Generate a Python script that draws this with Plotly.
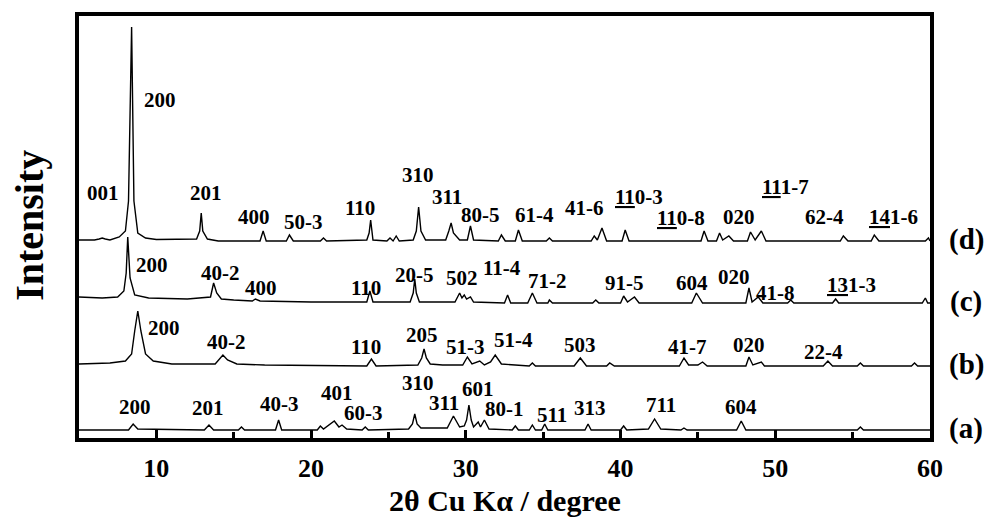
import plotly.graph_objects as go

# ---------------- data ----------------
# 2theta (degree) and intensity above each pattern's own baseline (arb. units)
two_theta_d = [5.0, 6.0, 6.3, 6.5, 6.7, 7.0, 7.6, 8.0, 8.2, 8.4, 8.55, 8.8, 9.3, 10.0, 12.6, 12.8, 12.9, 13.0, 13.3, 14.0,
               16.7, 16.9, 17.1, 18.4, 18.6, 18.85, 20.6, 20.8, 21.0, 23.6, 23.75, 23.85, 24.0, 24.9, 25.1, 25.3, 25.5, 25.7,
               26.6, 26.8, 26.95, 27.1, 27.4, 28.7, 28.9, 29.05, 29.2, 29.6, 30.1, 30.3, 30.5, 32.1, 32.3, 32.55, 33.2, 33.4,
               33.65, 35.2, 35.4, 35.6, 38.1, 38.3, 38.5, 38.8, 39.1, 40.1, 40.3, 40.55, 45.2, 45.4, 45.65, 46.2, 46.4, 46.6,
               47.0, 47.3, 48.2, 48.4, 48.7, 49.1, 49.4, 54.2, 54.4, 54.7, 56.2, 56.4, 56.7, 59.7, 59.9, 60.0]
intensity_d = [1, 1, 2, 3, 2, 1, 4, 10, 40, 214, 40, 8, 3, 1.5, 2, 10, 28, 10, 2, 0,
               0, 10, 0, 0, 6, 0, 0, 3, 0, 1, 8, 21, 1, 0, 3, 0, 5, 0,
               1, 10, 34, 10, 1, 1, 10, 18, 8, 1, 1, 15, 1, 0, 6, 0, 0, 11,
               0, 0, 3, 0, 0, 5, 1, 13, 0, 0, 11, 0, 0, 10, 0, 0, 8, 1,
               5, 0, 0, 9, 1, 10, 0, 0, 5, 0, 0, 6, 0, 0, 3, 0]

two_theta_c = [5.0, 6.5, 7.5, 7.9, 8.05, 8.15, 8.3, 8.6, 9.5, 12.0, 13.5, 13.7, 13.9, 14.2, 15.0, 16.2, 16.4, 16.7, 20.0,
               23.6, 23.8, 24.0, 26.4, 26.6, 26.7, 26.8, 27.0, 29.3, 29.6, 29.75, 29.9, 30.05, 30.3, 30.5, 32.5, 32.7, 32.9,
               34.0, 34.3, 34.6, 35.3, 35.4, 35.6, 38.2, 38.4, 38.6, 40.0, 40.2, 40.45, 40.9, 41.2, 44.6, 44.9, 45.3,
               48.1, 48.3, 48.5, 48.9, 49.2, 50.8, 51.0, 51.2, 53.7, 53.9, 54.1, 59.5, 59.7, 59.85, 60.0]
intensity_c = [6, 5, 6, 12, 30, 66, 25, 8, 5, 4, 6, 20, 10, 4, 3, 2, 4, 2, 1,
               1, 12, 1, 1, 10, 24, 10, 1, 1, 10, 5, 8, 4, 6, 1, 0, 8, 0,
               0, 10, 0, 0, 3, 0, 0, 3, 0, 0, 7, 1, 6, 0, 0, 10, 0,
               0, 15, 1, 6, 0, 0, 3, 0, 0, 4, 0, 0, 5, 0, 0]

two_theta_b = [5.0, 7.0, 8.0, 8.4, 8.6, 8.8, 9.0, 9.3, 9.8, 11.0, 13.8, 14.1, 14.3, 14.6, 15.2, 17.0, 23.6, 23.9, 24.2,
               26.9, 27.15, 27.3, 27.45, 27.7, 28.5, 29.8, 30.1, 30.4, 30.9, 31.2, 31.6, 31.9, 32.3, 34.1, 34.3, 34.5,
               37.0, 37.4, 37.8, 39.1, 39.3, 39.6, 43.8, 44.1, 44.4, 45.0, 45.3, 45.6, 48.1, 48.3, 48.55, 49.1, 49.3,
               53.1, 53.4, 53.7, 55.3, 55.5, 55.7, 58.8, 59.0, 59.2, 60.0]
intensity_b = [2, 3, 5, 12, 35, 55, 35, 12, 5, 2, 2, 8, 11, 6, 2, 1, 0, 7, 0,
               1, 8, 17, 8, 2, 1, 1, 9, 2, 5, 1, 4, 11, 2, 0, 3, 0,
               0, 8, 0, 0, 3, 0, 0, 8, 1, 1, 4, 0, 0, 9, 1, 4, 0,
               0, 5, 0, 0, 3, 0, 0, 3, 0, 0]

two_theta_a = [5.0, 8.2, 8.5, 8.8, 13.1, 13.4, 13.7, 15.3, 15.5, 15.7, 17.7, 17.9, 18.1, 20.4, 20.6, 20.8, 21.5, 21.8,
               22.0, 22.3, 23.3, 23.5, 23.7, 26.3, 26.55, 26.7, 26.85, 27.1, 28.8, 29.2, 29.6, 29.9, 30.05, 30.2, 30.35,
               30.5, 30.8, 30.95, 31.2, 31.5, 33.0, 33.2, 33.4, 34.1, 34.3, 34.5, 34.9, 35.1, 35.3, 37.7, 37.9, 38.1,
               40.0, 40.2, 40.4, 41.8, 42.2, 42.6, 43.9, 44.1, 44.3, 47.5, 47.8, 48.1, 55.3, 55.5, 55.7, 60.0]
intensity_a = [0, 0, 6, 1, 0, 5, 0, 0, 3, 0, 0, 10, 0, 0, 4, 1, 9, 3,
               5, 1, 0, 3, 0, 1, 6, 16, 6, 2, 2, 14, 3, 4, 10, 25, 10,
               3, 8, 3, 10, 1, 0, 4, 0, 0, 5, 0, 0, 6, 0, 0, 6, 0,
               0, 4, 0, 1, 11, 1, 0, 2, 0, 0, 9, 0, 0, 3, 0, 0]

sample_names = ["(a)", "(b)", "(c)", "(d)"]
offsets = [10, 74, 137, 199]

# peak index labels: text, label x (degree), label y (axis units)
labels_d = ["001", "200", "201", "400", "50-3", "110", "310", "311", "80-5", "61-4", "41-6",
            "<u>11</u>0-3", "<u>11</u>0-8", "020", "<u>11</u>1-7", "62-4", "<u>14</u>1-6"]
labels_d_x = [6.54, 10.21, 13.23, 16.32, 19.54, 23.14, 26.94, 28.80, 30.92, 34.46, 37.68,
              41.22, 43.92, 47.65, 50.67, 53.18, 57.62]
labels_d_y = [247, 340, 247, 223, 218, 232, 265, 243, 225, 225, 232, 243, 222, 223, 253, 223, 223]

labels_c = ["200", "40-2", "400", "110", "20-5", "502", "11-4", "71-2", "91-5", "604", "020", "41-8", "<u>13</u>1-3"]
labels_c_x = [9.70, 14.13, 16.77, 23.53, 26.68, 29.77, 32.34, 35.30, 40.25, 44.63, 47.33, 50.03, 54.92]
labels_c_y = [175, 167, 152, 152, 165, 162, 172, 159, 157, 157, 163, 147, 155]

labels_b = ["200", "40-2", "110", "205", "51-3", "51-4", "503", "41-7", "020", "22-4"]
labels_b_x = [10.47, 14.52, 23.53, 27.19, 29.96, 33.05, 37.36, 44.31, 48.29, 53.12]
labels_b_y = [112, 98, 93, 105, 93, 100, 95, 93, 95, 88]

labels_a = ["200", "201", "40-3", "401", "60-3", "310", "311", "601", "80-1", "511", "313", "711", "604"]
labels_a_x = [8.60, 13.36, 17.93, 21.66, 23.40, 26.94, 28.61, 30.80, 32.50, 35.56, 38.00, 42.63, 47.78]
labels_a_y = [33, 32, 36, 47, 27, 57, 37, 51, 31, 25, 32, 35, 33]

# ---------------- figure ----------------
SERIF = "Liberation Serif"
fig = go.Figure()

patterns = [(two_theta_a, intensity_a), (two_theta_b, intensity_b),
            (two_theta_c, intensity_c), (two_theta_d, intensity_d)]
for (xs, ys), off, name in zip(patterns, offsets, sample_names):
    fig.add_trace(go.Scatter(x=xs, y=[v + off for v in ys], mode="lines", name=name,
                             line=dict(color="black", width=1.4), showlegend=False,
                             hoverinfo="skip"))

annotations = []
for texts, lx, ly in [(labels_d, labels_d_x, labels_d_y), (labels_c, labels_c_x, labels_c_y),
                      (labels_b, labels_b_x, labels_b_y), (labels_a, labels_a_x, labels_a_y)]:
    for t, x, y in zip(texts, lx, ly):
        annotations.append(dict(x=x, y=y, xref="x", yref="y", text=t, showarrow=False,
                                font=dict(family=SERIF, size=21, color="black", weight="bold"),
                                xanchor="center", yanchor="middle"))

for name, off in zip(sample_names, offsets):
    annotations.append(dict(x=1.0425, y=off + 2, xref="paper", yref="y", text=name, showarrow=False,
                            font=dict(family=SERIF, size=29, color="black", weight="bold"),
                            xanchor="center", yanchor="middle"))

annotations.append(dict(x=0.5006, y=-0.148, xref="paper", yref="paper", text="2θ Cu Kα / degree",
                        showarrow=False, xanchor="center", yanchor="middle",
                        font=dict(family=SERIF, size=30, color="black", weight="bold")))
annotations.append(dict(x=-0.0576, y=0.505, xref="paper", yref="paper", text="Intensity",
                        showarrow=False, xanchor="center", yanchor="middle", textangle=-90,
                        font=dict(family=SERIF, size=40, color="black", weight="bold")))

fig.update_layout(
    width=977, height=512,
    margin=dict(l=71, r=55, t=8, b=82, autoexpand=False),
    paper_bgcolor="white", plot_bgcolor="white",
    annotations=annotations,
    xaxis=dict(range=[5, 60], tickmode="linear", tick0=0, dtick=10, ticks="inside", ticklen=8, tickwidth=3,
               tickcolor="black", showline=True, linewidth=4, linecolor="black", mirror=True,
               showgrid=False, zeroline=False, ticklabelstandoff=4,
               tickfont=dict(family=SERIF, size=26, color="black", weight="bold"),
               minor=dict(dtick=5, tick0=0, ticks="inside", ticklen=6, tickwidth=3, tickcolor="black",
                          showgrid=False)),
    yaxis=dict(range=[2, 424], showticklabels=False, ticks="", showline=True, linewidth=4,
               linecolor="black", mirror=True, showgrid=False, zeroline=False),
)

fig.write_html("out.html")
